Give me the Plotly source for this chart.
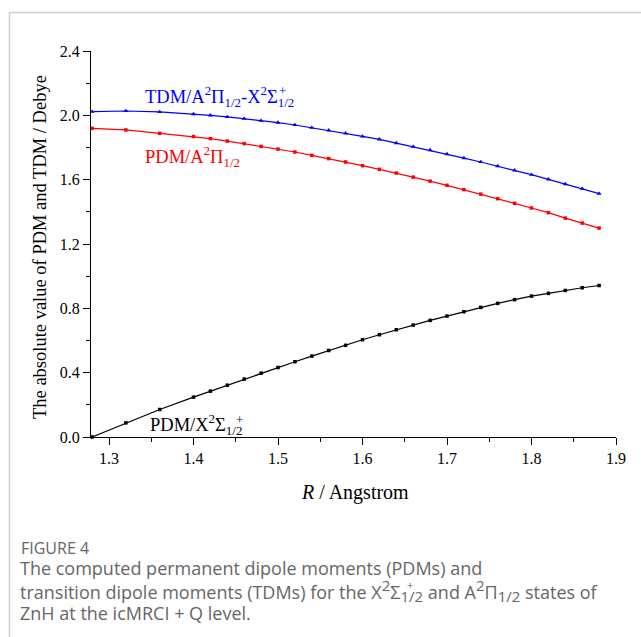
import plotly.graph_objects as go

# Internuclear distance grid (Angstrom)
r_values = [1.28, 1.32, 1.36, 1.40, 1.42, 1.44, 1.46, 1.48, 1.50, 1.52, 1.54, 1.56,
            1.58, 1.60, 1.62, 1.64, 1.66, 1.68, 1.70, 1.72, 1.74, 1.76, 1.78, 1.80,
            1.82, 1.84, 1.86, 1.88]

# TDM between A2Pi1/2 and X2Sigma+1/2 (Debye)
tdm_a_x = [2.023, 2.027, 2.021, 2.008, 2.000, 1.990, 1.979, 1.967, 1.955, 1.940,
           1.923, 1.907, 1.888, 1.869, 1.851, 1.828, 1.805, 1.784, 1.759, 1.734,
           1.710, 1.685, 1.658, 1.631, 1.602, 1.573, 1.544, 1.513]

# PDM of A2Pi1/2 (Debye)
pdm_a = [1.919, 1.909, 1.888, 1.868, 1.855, 1.840, 1.824, 1.807, 1.790, 1.772,
         1.751, 1.731, 1.710, 1.687, 1.664, 1.641, 1.616, 1.591, 1.565, 1.538,
         1.510, 1.482, 1.453, 1.424, 1.395, 1.361, 1.330, 1.299]

# PDM of X2Sigma+1/2 (Debye)
pdm_x = [0.000, 0.088, 0.171, 0.248, 0.285, 0.322, 0.360, 0.397, 0.432, 0.468,
         0.503, 0.538, 0.570, 0.605, 0.636, 0.667, 0.696, 0.725, 0.752, 0.779,
         0.806, 0.831, 0.854, 0.876, 0.893, 0.911, 0.928, 0.942]

y_ticks = [0.0, 0.4, 0.8, 1.2, 1.6, 2.0, 2.4]
x_ticks = [1.3, 1.4, 1.5, 1.6, 1.7, 1.8, 1.9]

W, H = 641, 637
L, R, T, B = 91, 25, 51, 200
PW, PH = W - L - R, H - T - B

def px(xp):
    return (xp - L) / PW

def py(yp):
    return (H - B - yp) / PH

SERIF = "Liberation Serif, Times New Roman, serif"
SANS = "Open Sans, Noto Sans, sans-serif"

fig = go.Figure()
fig.add_trace(go.Scatter(x=r_values, y=tdm_a_x, mode="lines+markers", cliponaxis=False,
                         line=dict(color="#0000ff", width=1.2),
                         marker=dict(symbol="triangle-up", size=4.5, color="#0000ff")))
fig.add_trace(go.Scatter(x=r_values, y=pdm_a, mode="lines+markers", cliponaxis=False,
                         line=dict(color="#ff0000", width=1.2),
                         marker=dict(symbol="square", size=3.5, color="#ff0000")))
fig.add_trace(go.Scatter(x=r_values, y=pdm_x, mode="lines+markers", cliponaxis=False,
                         line=dict(color="#000000", width=1.2),
                         marker=dict(symbol="square", size=3.5, color="#000000")))

axis_common = dict(showgrid=False, zeroline=False, showline=True, linecolor="black",
                   linewidth=1.2, ticks="outside", ticklen=7, tickwidth=1.2,
                   tickcolor="black", mirror=False,
                   tickfont=dict(family=SERIF, size=16, color="black"))

fig.update_xaxes(range=[1.2787, 1.9], tickvals=x_ticks,
                 ticktext=[f"{v:.1f}" for v in x_ticks],
                 minor=dict(dtick=0.05, ticks="outside", ticklen=4, tickwidth=1.2,
                            tickcolor="black", showgrid=False),
                 **axis_common)
fig.update_yaxes(range=[0, 2.4], tickvals=y_ticks,
                 ticktext=[f"{v:.1f}" for v in y_ticks],
                 minor=dict(dtick=0.2, ticks="outside", ticklen=4, tickwidth=1.2,
                            tickcolor="black", showgrid=False),
                 **axis_common)

def dx(xpix):
    # horizontal pixel position -> R value
    return 1.3 + (xpix - 109) / 845

def dy(ypix):
    # vertical pixel position -> dipole value
    return (437.5 - ypix) / 160.75

ann = []
lab_font = dict(family=SERIF, size=18.5)
# Curve labels
ann.append(dict(x=dx(143), y=dy(97), xref="x", yref="y", xanchor="left", yanchor="middle",
                text="TDM/A<sup>2</sup>Π<sub>1/2</sub>-X<sup>2</sup>Σ<sub>1/2</sub>",
                font=dict(color="#0000ff", **lab_font), showarrow=False))
ann.append(dict(x=dx(282), y=dy(91), xref="x", yref="y", xanchor="center",
                yanchor="middle", text="+",
                font=dict(color="#0000ff", family=SERIF, size=13), showarrow=False))
ann.append(dict(x=dx(143), y=dy(157), xref="x", yref="y", xanchor="left", yanchor="middle",
                text="PDM/A<sup>2</sup>Π<sub>1/2</sub>",
                font=dict(color="#ff0000", **lab_font), showarrow=False))
ann.append(dict(x=dx(148), y=dy(425), xref="x", yref="y", xanchor="left", yanchor="middle",
                text="PDM/X<sup>2</sup>Σ<sub>1/2</sub>",
                font=dict(color="#000000", **lab_font), showarrow=False))
ann.append(dict(x=dx(239), y=dy(420), xref="x", yref="y", xanchor="center",
                yanchor="middle", text="+",
                font=dict(color="#000000", family=SERIF, size=13), showarrow=False))

# Axis titles
ann.append(dict(x=px(355), y=py(492), xref="paper", yref="paper", xanchor="center",
                yanchor="middle", text="<i>R</i> / Angstrom",
                font=dict(family=SERIF, size=20, color="black"), showarrow=False))
ann.append(dict(x=px(40), y=py(247), xref="paper", yref="paper", xanchor="center",
                yanchor="middle", textangle=-90,
                text="The absolute value of PDM and TDM / Debye",
                font=dict(family=SERIF, size=18.5, color="black"), showarrow=False))

# Caption
cap_color = "#666666"

def big(s):
    # enlarge super/subscript glyphs in the caption
    return f'<span style="font-size:15px">{s}</span>'

ann.append(dict(x=px(19), y=py(548), xref="paper", yref="paper", xanchor="left",
                yanchor="middle", text="FIGURE 4",
                font=dict(family=SANS, size=16, color=cap_color), showarrow=False))
cap_lines = [
    "The computed permanent dipole moments (PDMs) and",
    f"transition dipole moments (TDMs) for the X<sup>{big('2')}</sup>Σ<sub>{big('1/2')}</sub>"
    f" and A<sup>{big('2')}</sup>Π<sub>{big('1/2')}</sub> states of",
    "ZnH at the icMRCI + Q level.",
]
for i, line in enumerate(cap_lines):
    ann.append(dict(x=px(18), y=py(568 + 22.5 * i), xref="paper", yref="paper",
                    xanchor="left", yanchor="middle", text=line,
                    font=dict(family=SANS, size=18, color=cap_color), showarrow=False))
ann.append(dict(x=px(410), y=py(584), xref="paper", yref="paper", xanchor="center",
                yanchor="middle", text="+",
                font=dict(family=SANS, size=11, color=cap_color), showarrow=False))

shapes = [
    dict(type="line", xref="paper", yref="paper", x0=px(9.5), x1=px(641), y0=py(12.5),
         y1=py(12.5), line=dict(color="#cccccc", width=1.5)),
    dict(type="line", xref="paper", yref="paper", x0=px(9.5), x1=px(9.5), y0=py(12.5),
         y1=py(637), line=dict(color="#cccccc", width=1.5)),
]

fig.update_layout(width=W, height=H, margin=dict(l=L, r=R, t=T, b=B),
                  paper_bgcolor="white", plot_bgcolor="white", showlegend=False,
                  annotations=ann, shapes=shapes)

fig.write_html("out.html")
